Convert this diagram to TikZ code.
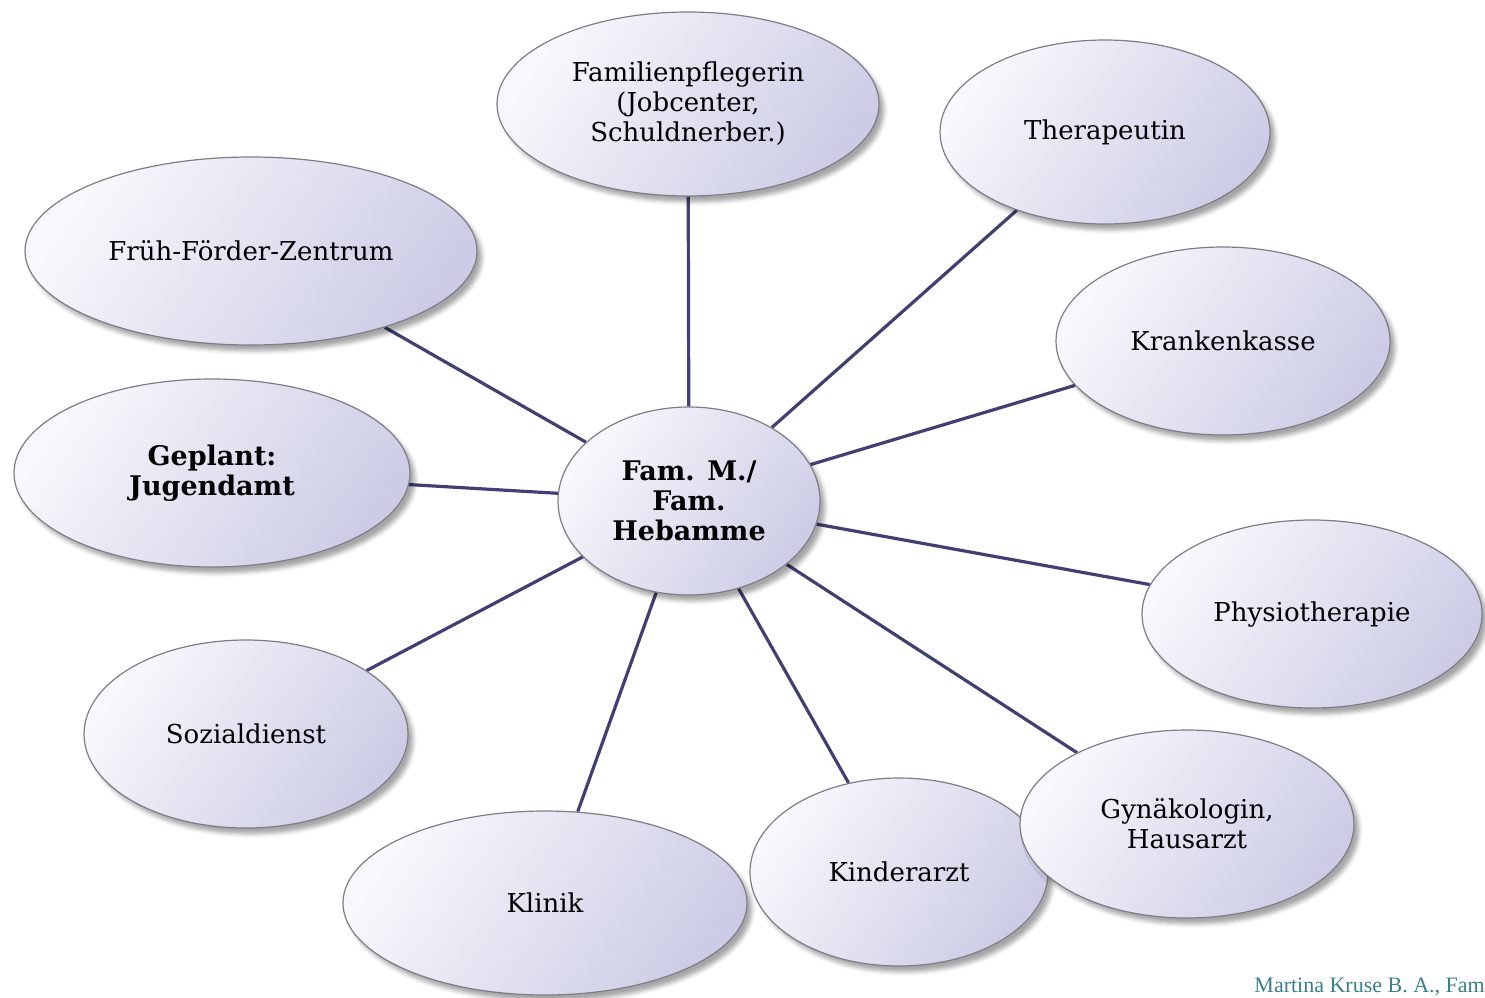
\documentclass[tikz,border=0pt]{standalone}
\usepackage{fontspec}
\setmainfont{DejaVu Serif}
\newfontfamily\footfont{Liberation Serif}
\usetikzlibrary{shapes.geometric,shadows.blur,backgrounds}
\definecolor{edgec}{RGB}{64,64,114}
\definecolor{lav}{RGB}{204,204,230}
\definecolor{lavl}{RGB}{248,248,252}
\definecolor{bord}{RGB}{125,125,135}
\definecolor{foot}{RGB}{58,128,138}
\begin{document}
\begin{tikzpicture}[x=1pt,y=-1pt,
  bub/.style={ellipse, draw=bord, line width=1.2pt, inner sep=0pt, align=center,
    font=\fontsize{26}{30}\selectfont,
    top color=lavl, bottom color=lav, shading angle=55,
    blur shadow={shadow xshift=5pt, shadow yshift=-6pt, shadow blur radius=4pt, shadow opacity=35}},
  bubb/.style={bub, font=\fontsize{27}{30}\selectfont\bfseries},
  link/.style={draw=edgec, line width=3.2pt}]
\useasboundingbox (0,0) rectangle (1485,997);
\clip (0,0) rectangle (1485,997);
\node[bub, minimum width=382, minimum height=184] (fp) at (688,104) {Familienpflegerin\\(Jobcenter,\\Schuldnerber.)};
\node[bub, minimum width=330, minimum height=184] (th) at (1105,132) {Therapeutin};
\node[bub, minimum width=452, minimum height=188] (ff) at (251,251) {Früh-Förder-Zentrum};
\node[bub, minimum width=334, minimum height=188] (kk) at (1223,341) {Krankenkasse};
\node[bubb, minimum width=396, minimum height=188] (ju) at (212,473) {Geplant:\\Jugendamt};
\node[bubb, minimum width=262, minimum height=188] (c) at (689,501) {Fam. M./\\Fam.\\Hebamme};
\node[bub, minimum width=340, minimum height=188] (ph) at (1312,614) {Physiotherapie};
\node[bub, minimum width=324, minimum height=188] (sd) at (246,734) {Sozialdienst};
\node[bub, minimum width=404, minimum height=184] (kl) at (545,903) {Klinik};
\node[bub, minimum width=298, minimum height=188] (ka) at (899,872) {Kinderarzt};
\node[bub, minimum width=334, minimum height=188] (gy) at (1187,824) {Gynäkologin,\\Hausarzt};
\begin{scope}[on background layer]
\foreach \t in {fp,th,ff,kk,ju,ph,sd,kl,ka,gy}
  \draw[link] (c) -- (\t);
\end{scope}
\node[anchor=base east, text=foot, inner sep=0pt, font=\footfont\fontsize{22}{26}\selectfont] (ft) at (1485,992) {Martina Kruse B. A., Fam};
\end{tikzpicture}
\end{document}
